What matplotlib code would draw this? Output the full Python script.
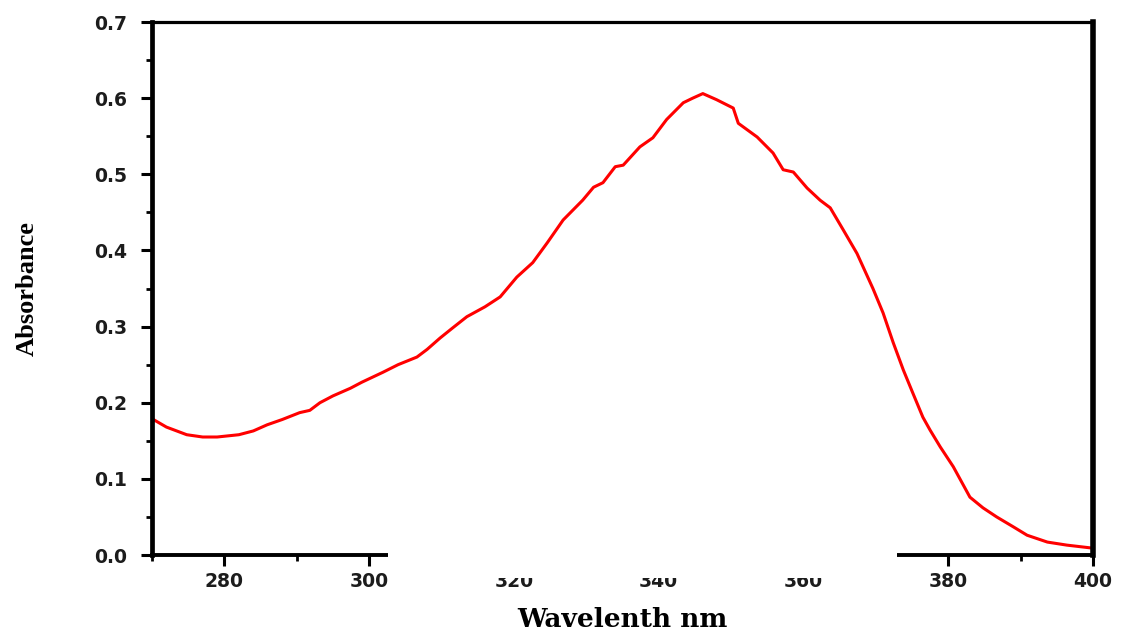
import matplotlib
matplotlib.use('Agg')
import matplotlib.pyplot as plt
from matplotlib.patches import Rectangle
from matplotlib.ticker import MultipleLocator

# UV-Vis absorption spectrum
wavelength = [270, 272, 274.8, 277, 279, 282, 284, 285.9, 288, 290.4, 291.8,
              293.2, 295, 297.4, 299, 301.9, 304, 306.6, 308, 309.8, 311.5,
              313.5, 316, 318.1, 320.4, 322.6, 324.6, 326.8, 329.5, 331, 332.3,
              334, 335.1, 337.4, 339.2, 341.1, 343.4, 344.7, 346.1, 348,
              350.3, 351, 353.6, 355.8, 357.2, 358.6, 360.5, 362.3, 363.7,
              365.5, 367.4, 369.6, 371, 372.4, 373.8, 375.1, 376.5, 377.5,
              378.9, 380.7, 383, 384.8, 386.7, 389, 390.9, 393.7, 396.4, 400]
absorbance = [0.179, 0.168, 0.158, 0.155, 0.155, 0.158, 0.163, 0.171, 0.178,
              0.187, 0.190, 0.200, 0.209, 0.219, 0.227, 0.240, 0.250, 0.260,
              0.270, 0.285, 0.298, 0.313, 0.326, 0.339, 0.365, 0.384, 0.410,
              0.440, 0.466, 0.483, 0.489, 0.510, 0.512, 0.536, 0.548, 0.572,
              0.594, 0.600, 0.606, 0.598, 0.587, 0.567, 0.549, 0.528, 0.506,
              0.503, 0.482, 0.466, 0.456, 0.427, 0.396, 0.350, 0.318, 0.279,
              0.243, 0.213, 0.181, 0.164, 0.142, 0.116, 0.076, 0.062, 0.050,
              0.037, 0.026, 0.017, 0.013, 0.009]

fig = plt.figure(figsize=(11.21, 6.31), dpi=100)
ax = fig.add_axes([0.1356, 0.1204, 0.8394, 0.8447])

ax.plot(wavelength, absorbance, color='#ff0000', linewidth=2.2)

ax.set_xlim(270, 400)
ax.set_ylim(0, 0.7)
ax.xaxis.set_major_locator(MultipleLocator(20))
ax.xaxis.set_minor_locator(MultipleLocator(10))
ax.yaxis.set_major_locator(MultipleLocator(0.1))
ax.yaxis.set_minor_locator(MultipleLocator(0.05))
ax.set_xticks([280, 300, 320, 340, 360, 380, 400])
ax.set_yticklabels([f'{v:.1f}' for v in ax.get_yticks()])

ax.tick_params(which='major', direction='out', length=8, width=2.2,
               color='black', top=False, right=False)
ax.tick_params(which='minor', direction='out', length=4, width=2.0,
               top=False, right=False)
ax.tick_params(axis='x', which='major', pad=4)
ax.tick_params(axis='y', which='major', pad=10)
for lab in ax.get_xticklabels() + ax.get_yticklabels():
    lab.set_fontfamily('DejaVu Sans')
    lab.set_fontweight('bold')
    lab.set_fontsize(13.5)
    lab.set_color('#1c1c1c')

ax.spines['left'].set_linewidth(3.4)
ax.spines['bottom'].set_linewidth(2.8)
ax.spines['top'].set_linewidth(2.3)
ax.spines['right'].set_linewidth(4.0)

ax.set_xlabel('Wavelenth nm', fontfamily='DejaVu Serif', fontweight='bold',
              fontsize=19, labelpad=12)
ax.set_ylabel('Absorbance', fontfamily='Liberation Serif', fontweight='bold',
              fontsize=19, labelpad=40)

# white band over the middle of the bottom axis
fig.add_artist(Rectangle((0.346, 0.084), 0.454, 0.060, transform=fig.transFigure,
                         facecolor='white', edgecolor='none', zorder=10))

fig.savefig('out.png', dpi=100)
